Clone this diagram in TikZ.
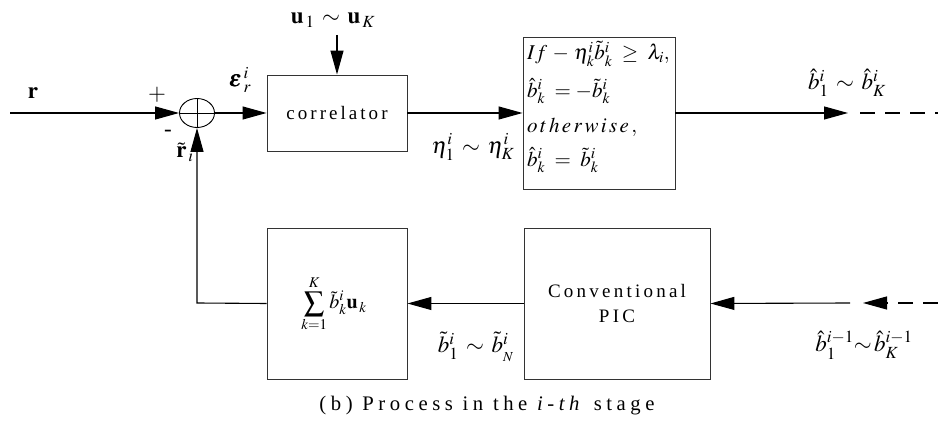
\documentclass[tikz,border=0pt]{standalone}
\usepackage{amsmath}
\usepackage{mathptmx}
\usepackage{bm}
\usepackage{graphicx}
\usepackage{fontspec}
\setmainfont{Liberation Serif}
\newfontfamily\capfont[LetterSpace=22]{Liberation Serif}
\usetikzlibrary{arrows.meta,shapes.geometric}
\newcommand{\mathlbl}{\fontsize{23}{26}\selectfont}
\tikzset{
  blk/.style={draw=black!80, line width=0.9pt, rectangle, inner sep=0pt},
  conn/.style={line width=1.1pt, -{Triangle[length=24pt,width=13pt]}},
  dashline/.style={line width=1.1pt, dash pattern=on 15pt off 10pt},
  lbl/.style={inner sep=0pt, font=\mathlbl},
  dline/.style={inner sep=0pt, anchor=west, font=\fontsize{21}{24}\selectfont},
  sp/.style={font=\fontsize{19}{25}\selectfont\addfontfeature{LetterSpace=16}}
}
\begin{document}
\begin{tikzpicture}[x=1pt,y=-1pt]
\useasboundingbox (0,0) rectangle (938,435);

% blocks
\node[draw=black, line width=0.9pt, ellipse, minimum width=35pt, minimum height=29pt, inner sep=0pt] (sum) at (197,113) {};
\node[blk, minimum width=140pt, minimum height=76pt, sp] (corr) at (337,113) {correlator};
\node[blk, minimum width=152pt, minimum height=152pt] (dec) at (599,113) {};
\node[dline] (d1) at (527,54) {$If\,-\,\eta_k^{i}\tilde b_k^{i}\;\ge\;\lambda_{i},$};
\node[dline] (d2) at (527,91) {$\hat b_k^{i}\;=-\tilde b_k^{i}$};
\node[dline] (d3) at (527,127) {$o\,t\,h\,e\,r\,w\,i\,s\,e\,,$};
\node[dline] (d4) at (527,160) {$\hat b_k^{i}\;=\;\tilde b_k^{i}$};
\node[blk, minimum width=140pt, minimum height=151pt] (sumb) at (337,303.5) {};
\node[inner sep=0pt, font=\fontsize{20}{24}\selectfont] (sumtext) at (334,304) {$\displaystyle\sum_{k=1}^{K}\tilde b_k^{i}\mathbf{u}_{\,k}$};
\node[blk, minimum width=186pt, minimum height=151pt, align=center, font=\fontsize{19}{25}\selectfont\addfontfeature{LetterSpace=17}] (pic) at (617,303.5) {Conventional\\PIC};

% cross in summing junction
\draw[line width=0.9pt] (sum.north) -- (sum.south);
\draw[line width=0.9pt] (sum.west) -- (sum.east);

% coordinates
\coordinate (rin) at (10,113);
\coordinate (utop) at (337,35);
\coordinate (outtip) at (848,113);
\coordinate (outdash) at (860,113);
\coordinate (outend) at (938,113);
\coordinate (inend) at (938,303);
\coordinate (intip) at (863,303);
\coordinate (instart) at (850,303);
\coordinate (fbcorner) at (197,303);

% connectors
\draw[conn] (rin) -- (sum.west);
\draw[conn] (sum.east) -- (corr.west);
\draw[conn] (utop) -- (corr.north);
\draw[conn] (corr.east) -- (dec.west);
\draw[conn] (dec.east) -- (outtip);
\draw[dashline] (outdash) -- (outend);
\draw[dashline, -{Triangle[length=24pt,width=13pt]}] (inend) -- (intip);
\draw[conn] (instart) -- (pic.east);
\draw[conn] (pic.west) -- (sumb.east);
\draw[conn] (sumb.west) -- (fbcorner) -- (sum.south);

% labels
\node[lbl] (lr) at (33,93) {$\mathbf{r}$};
\node[lbl] (lplus) at (157,95) {$+$};
\node[lbl] (lminus) at (168,133) {-};
\node[lbl] (leps) at (240,80) {$\bm{\varepsilon}_{\,r}^{\,i}$};
\node[lbl] (lu) at (333,20) {$\mathbf{u}_{\,1}\,\sim\,\mathbf{u}_{\,K}$};
\node[lbl] (leta) at (473,147) {$\eta_1^{i}\,\sim\,\eta_K^{i}$};
\node[lbl] (lbout) at (847,83) {$\hat b_1^{i}\,\sim\,\hat b_K^{i}$};
\node[lbl] (lbt) at (476,347) {$\tilde b_1^{i}\,\sim\,\tilde b_{_N}^{i}$};
\node[lbl] (lbin) at (864,345) {$\hat b_1^{i-1}{\sim}\,\hat b_K^{i-1}$};
\node[lbl] (lrt) at (185,152) {$\tilde{\mathbf{r}}_{\,i}$};
\node[inner sep=0pt] (cap) at (487,406) {\resizebox{335pt}{!}{\capfont\fontsize{19}{22}\selectfont (b) Process in the \textit{i-th} stage}};
\end{tikzpicture}
\end{document}
